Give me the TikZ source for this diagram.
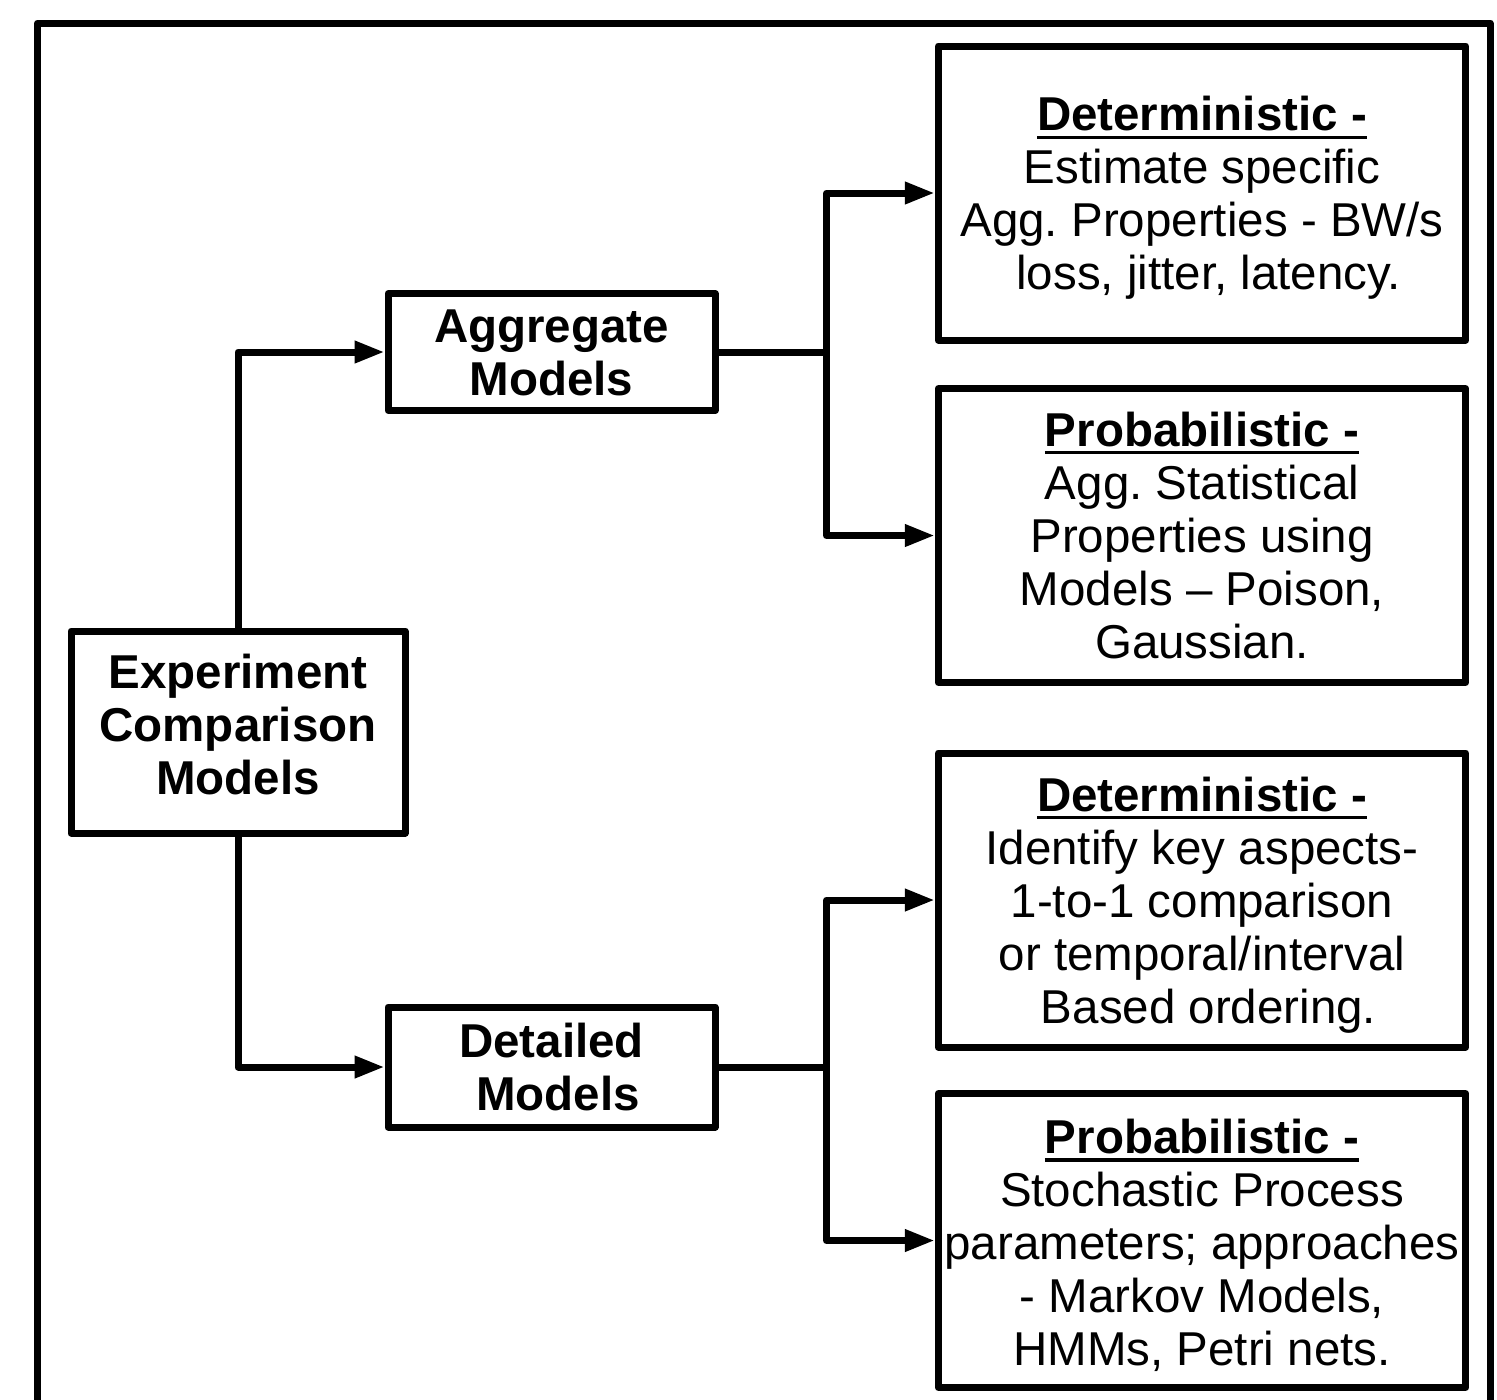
\documentclass[tikz,border=0pt]{standalone}
\usepackage{fontspec}
\setmainfont{Liberation Sans}
\usetikzlibrary{arrows.meta}
\frenchspacing
% bold heading with a thick underline spanning the whole heading
\newcommand\hdr[1]{\setbox0\hbox{\bfseries #1}\rlap{\usebox0}\rule[-4pt]{\wd0}{1.6pt}}
% a kept word space at a line end
\newcommand\ksp{\hspace*{0.278em}}
\begin{document}
\begin{tikzpicture}[x=0.5pt,y=-0.5pt,line width=3.5pt,line join=round,
  frame/.style={draw,rectangle,line width=3.5pt,inner sep=0pt},
  txt/.style={inner sep=0pt,align=center,font=\fontsize{23.75}{26.5}\selectfont},
  boldtxt/.style={txt,font=\fontsize{23.75}{26.5}\selectfont\bfseries},
  infobox/.style={frame,minimum width=263.75pt,minimum height=147pt},
  arr/.style={-{Triangle[length=15pt,width=10.5pt]}}]
\clip (0,0) rectangle (1497,1399);
% outer frame (open at the bottom)
\draw (37.5,1420) -- (37.5,23) -- (1490,23) -- (1490,1420);

% box outlines
\node[frame,minimum width=167pt,minimum height=101pt] (exp) at (238,732) {};
\node[frame,minimum width=163.5pt,minimum height=58.5pt] (agg) at (551.5,352) {};
\node[frame,minimum width=163.5pt,minimum height=60pt] (det) at (551.5,1067) {};
\node[infobox] (r1) at (1202,193) {};
\node[infobox] (r2) at (1202,535.5) {};
\node[infobox] (r3) at (1202,900) {};
\node[infobox] (r4) at (1202,1240.5) {};

% box texts
\node[boldtxt] (exp-t) at (238,724.5) {Experiment\\Comparison\\Models};
\node[boldtxt] (agg-t) at (551.5,353) {Aggregate\\Models};
\node[boldtxt] (det-t) at (551.5,1067) {Detailed\\\ksp Models};
\node[txt] (r1-t) at (1202,198)
  {\hdr{Deterministic -}\\Estimate specific\ksp\\Agg. Properties - BW/s\\\ksp loss, jitter, latency.};
\node[txt] (r2-t) at (1202,535.5)
  {\hdr{Probabilistic -}\\Agg. Statistical\\Properties using\ksp\\Models – Poison,\\Gaussian.};
\node[txt] (r3-t) at (1202,905)
  {\hdr{Deterministic -}\\Identify key aspects-\\1-to-1 comparison\\or temporal/interval\\\ksp Based ordering.};
\node[txt] (r4-t) at (1202,1245.5)
  {\hdr{Probabilistic -}\\Stochastic Process\ksp\\parameters; approaches\\- Markov Models,\\HMMs, Petri nets.};

\coordinate (busA) at (826.5,352);
\coordinate (busD) at (826.5,1067);

\draw[arr] (exp.north) |- (agg.west);
\draw[arr] (exp.south) |- (det.west);
\draw (agg.east) -- (busA);
\draw[arr] (busA) |- (r1.west);
\draw[arr] (busA) |- (r2.west);
\draw (det.east) -- (busD);
\draw[arr] (busD) |- (r3.west);
\draw[arr] (busD) |- (r4.west);
\end{tikzpicture}
\end{document}
